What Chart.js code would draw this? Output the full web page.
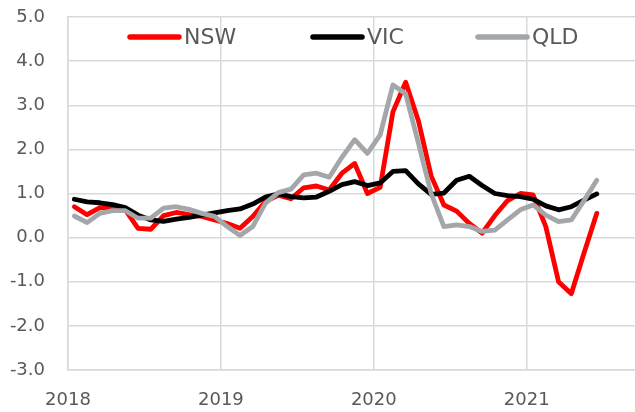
<!DOCTYPE html>
<html>
<head>
<meta charset="utf-8">
<script src="https://cdn.jsdelivr.net/npm/chart.js@4/dist/chart.umd.min.js"></script>
<style>
  body { margin: 0; background: #fff; }
  #wrap { width: 635px; height: 412px; }
</style>
</head>
<body>
<div id="wrap"><canvas id="chart" width="635" height="412"></canvas></div>
<script>
// monthly values, Jan 2018 .. Jun 2021
const years = ["2018", "2019", "2020", "2021"];
const nsw = [0.70, 0.52, 0.68, 0.67, 0.63, 0.21, 0.19, 0.50, 0.57, 0.52,
             0.48, 0.40, 0.32, 0.21, 0.48, 0.82, 0.96, 0.88, 1.13, 1.17,
             1.08, 1.46, 1.68, 1.00, 1.14, 2.85, 3.52, 2.65, 1.40, 0.74,
             0.60, 0.32, 0.10, 0.50, 0.84, 1.00, 0.97, 0.25, -1.00, -1.27,
             -0.35, 0.55];
const vic = [0.87, 0.81, 0.79, 0.75, 0.68, 0.51, 0.40, 0.37, 0.42, 0.46,
             0.51, 0.56, 0.61, 0.65, 0.76, 0.92, 0.99, 0.93, 0.90, 0.92,
             1.05, 1.20, 1.27, 1.18, 1.24, 1.50, 1.52, 1.22, 0.98, 1.01,
             1.30, 1.39, 1.18, 1.00, 0.95, 0.93, 0.87, 0.72, 0.63, 0.70,
             0.85, 0.99];
const qld = [0.49, 0.34, 0.55, 0.61, 0.61, 0.44, 0.44, 0.67, 0.70, 0.64,
             0.55, 0.48, 0.25, 0.05, 0.25, 0.78, 1.02, 1.10, 1.42, 1.46,
             1.37, 1.82, 2.22, 1.91, 2.33, 3.46, 3.26, 2.14, 1.00, 0.25,
             0.29, 0.25, 0.14, 0.17, 0.40, 0.63, 0.74, 0.51, 0.36, 0.40,
             0.84, 1.30];
const yearTicks = [0, 12, 24, 36];

// point sits in the middle of its month slot
const toPoints = arr => arr.map((v, i) => ({ x: i + 0.5, y: v }));

const gridColor = "#D9D9D9";
const textColor = "#595959";
const font = '"DejaVu Sans", sans-serif';

// legend sits inside the plot, like the Excel one
const legendX = [127, 310, 475];
const insideLegend = {
  id: "insideLegend",
  afterDraw(chart) {
    const ctx = chart.ctx;
    ctx.save();
    chart.data.datasets.forEach((ds, k) => {
      const x0 = legendX[k];
      ctx.strokeStyle = ds.borderColor;
      ctx.lineWidth = 5.5;
      ctx.lineCap = "round";
      ctx.beginPath();
      ctx.moveTo(x0 + 3, 37);
      ctx.lineTo(x0 + 52, 37);
      ctx.stroke();
      ctx.fillStyle = textColor;
      ctx.font = "22px " + font;
      ctx.textBaseline = "middle";
      ctx.fillText(ds.label, x0 + 57, 38);
    });
    ctx.restore();
  }
};

const lineStyle = {
  borderWidth: 4.8,
  pointRadius: 0,
  tension: 0,
  borderJoinStyle: "round",
  borderCapStyle: "round",
  fill: false
};

new Chart(document.getElementById("chart"), {
  type: "line",
  data: {
    datasets: [
      { label: "NSW", data: toPoints(nsw), borderColor: "#FF0000", order: 2, ...lineStyle },
      { label: "VIC", data: toPoints(vic), borderColor: "#000000", order: 1, ...lineStyle },
      { label: "QLD", data: toPoints(qld), borderColor: "#A3A7AA", order: 0, ...lineStyle }
    ]
  },
  options: {
    responsive: false,
    animation: false,
    layout: { padding: { top: 17, right: 0, bottom: 0, left: 0 } },
    plugins: {
      legend: { display: false },
      tooltip: { enabled: false }
    },
    scales: {
      x: {
        type: "linear",
        min: 0,
        max: 44.5,
        afterBuildTicks: scale => { scale.ticks = yearTicks.map(v => ({ value: v })); },
        afterFit: scale => { scale.height = 42; },
        grid: { color: gridColor, lineWidth: 1.5, drawTicks: false },
        border: { color: gridColor, width: 1.5 },
        ticks: {
          padding: 20,
          color: textColor,
          font: { family: font, size: 18 },
          maxRotation: 0,
          callback: v => years[yearTicks.indexOf(v)]
        }
      },
      y: {
        min: -3,
        max: 5,
        afterFit: scale => {
          scale.width = 68;
          // tick padding is horizontal here, don't let it push the plot down
          scale.paddingTop = 0;
          scale.paddingBottom = 0;
        },
        grid: { color: gridColor, lineWidth: 1.5, drawTicks: false },
        border: { color: gridColor, width: 1.5 },
        ticks: {
          stepSize: 1,
          padding: 23,
          color: textColor,
          font: { family: font, size: 18 },
          callback: v => v.toFixed(1)
        }
      }
    }
  },
  plugins: [insideLegend]
});
</script>
</body>
</html>
